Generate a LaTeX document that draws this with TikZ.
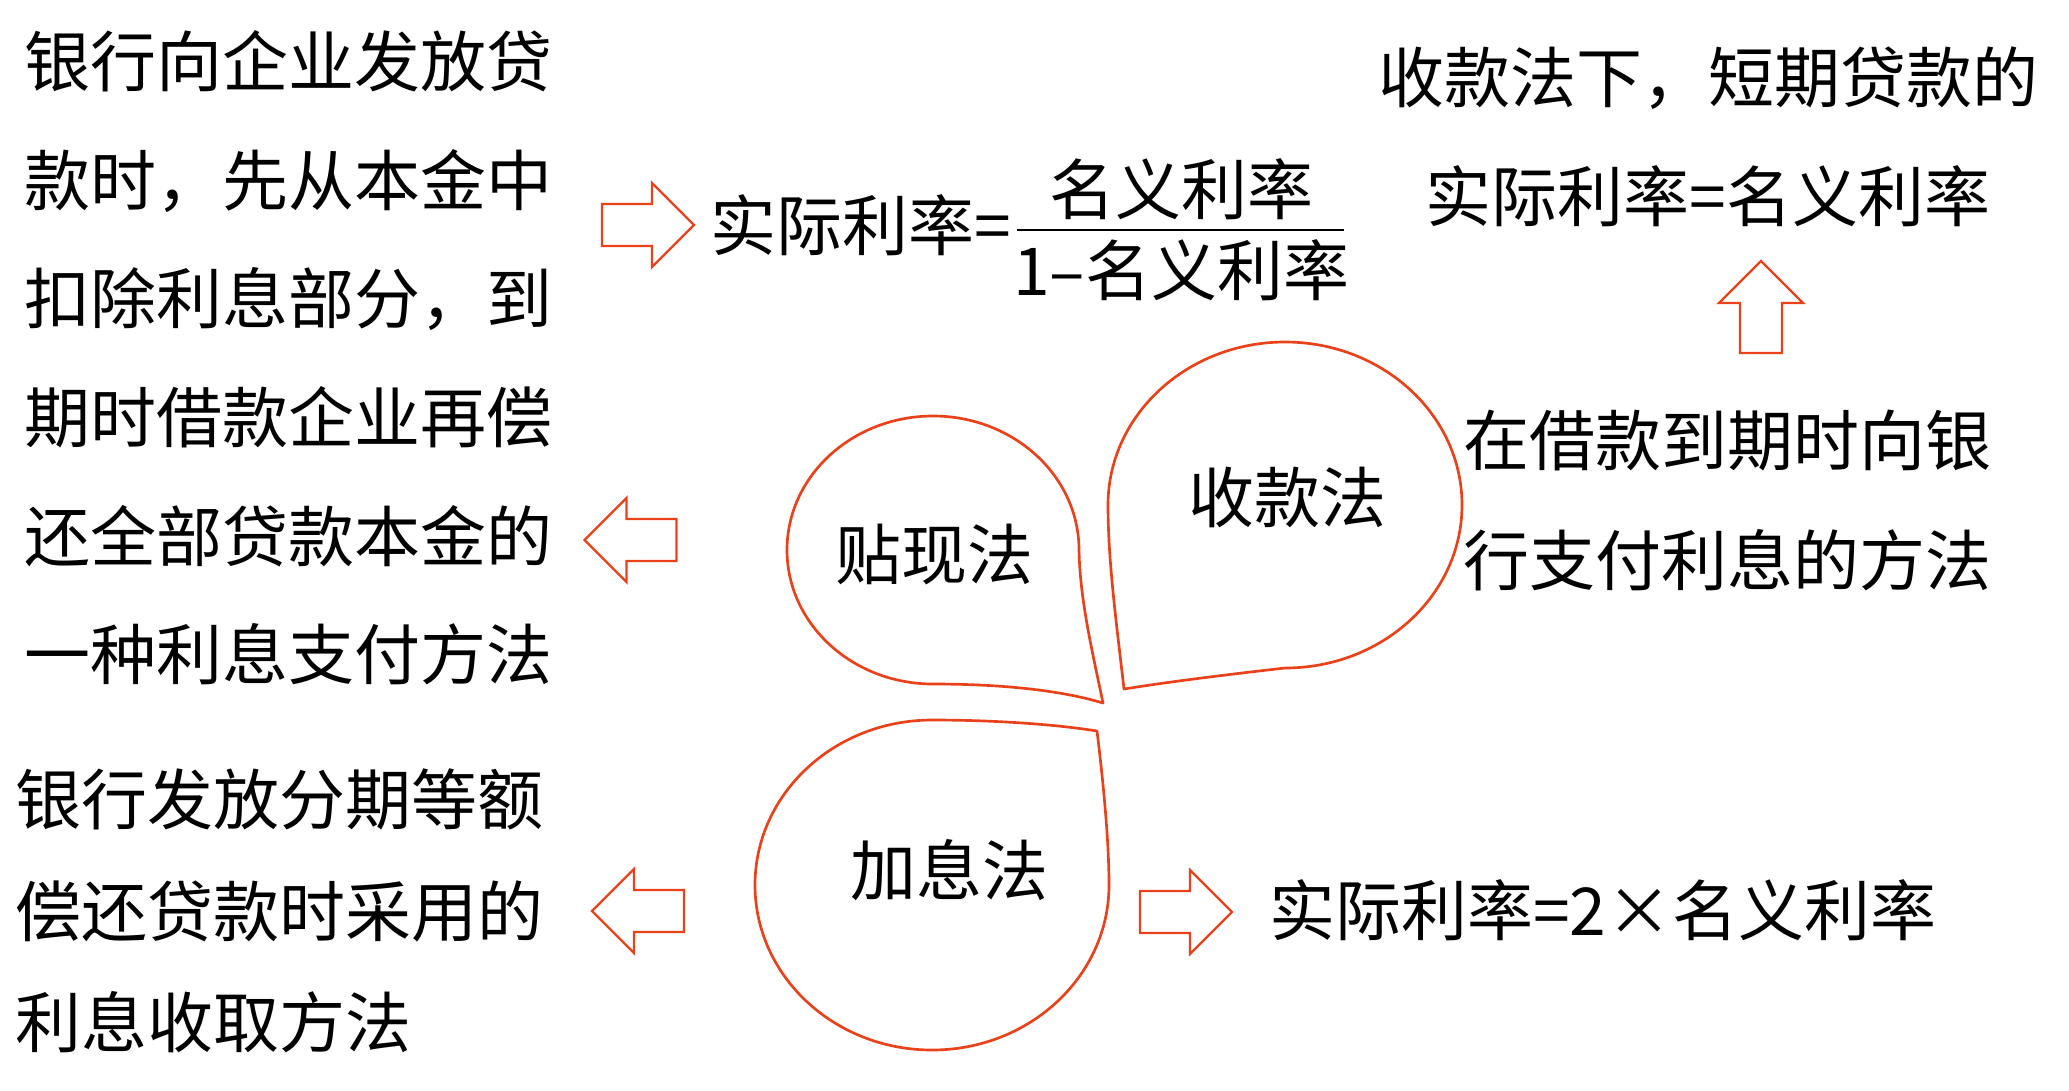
\documentclass[tikz,border=0pt]{standalone}
\usepackage{fontspec}
\setmainfont{Noto Sans CJK SC}
\definecolor{arroworange}{RGB}{233,66,26}
\tikzset{
  txt/.style={inner sep=0pt, align=left, font=\fontsize{49.5}{#1}\selectfont},
  txt/.default=89,
  bubble/.style={draw=arroworange, line width=2pt, line join=round},
  blockarrow/.pic={\draw[arroworange, line width=1.8pt] (-46,-21) -- (4,-21) -- (4,-42) -- (46,0) -- (4,42) -- (4,21) -- (-46,21) -- cycle;}
}
\begin{document}
\begin{tikzpicture}[x=0.75pt,y=0.75pt,yscale=-1,xscale=1]
\useasboundingbox (0,0) rectangle (2069,1090);

%Shape: Teardrop (discount)
\draw[bubble] (1103,703) .. controls (1092,650) and (1080,600) .. (1079,550) arc[start angle=0, end angle=-270, x radius=146, y radius=134] .. controls (1000,684) and (1060,690) .. cycle;
%Shape: Teardrop (collection)
\draw[bubble] (1108,505) arc[start angle=-180, end angle=90, x radius=177, y radius=163] .. controls (1250,672) and (1180,680) .. (1124,689) .. controls (1116,620) and (1108,560) .. cycle;
%Shape: Teardrop (add-on)
\draw[bubble] (1109,885) arc[start angle=0, end angle=270, x radius=177, y radius=165] .. controls (1000,720) and (1060,725) .. (1097,731) .. controls (1103,780) and (1109,840) .. cycle;

%Block Arrows
\pic at (648,225) {blockarrow};
\pic[rotate=180] at (630.5,540) {blockarrow};
\pic[rotate=180] at (638,911) {blockarrow};
\pic at (1186,912) {blockarrow};
\pic[rotate=90] at (1761,307) {blockarrow};

% Text Node
\node[txt, anchor=west] (discdef) at (24,358) {银行向企业发放贷\\款时，先从本金中\\扣除利息部分，到\\期时借款企业再偿\\还全部贷款本金的\\一种利息支付方法};
% Text Node
\node[txt=83.8, anchor=west] (adddef) at (15,911) {银行发放分期等额\\偿还贷款时采用的\\利息收取方法};
% Text Node
\node[txt=90, anchor=west] (colldef) at (1463,500) {在借款到期时向银\\行支付利息的方法};
% Text Node
\node[txt, align=center] (collrate) at (1708,136.5) {收款法下，短期贷款的\\实际利率=名义利率};

% Text Node
\node[txt, anchor=west] (discrate) at (710,225) {实际利率=};
\node[txt] (numer) at (1181,189) {名义利率};
\node[txt] (denom) at (1181,270) {1–名义利率};
\coordinate (barL) at (1017,230);
\coordinate (barR) at (1344,230);
\draw[line width=2pt] (barL) -- (barR);

% Text Node
\node[txt, anchor=west] (addrate) at (1269,910) {实际利率=2×名义利率};

% Text Node
\node[txt] (disc) at (934,555) {贴现法};
% Text Node
\node[txt] (coll) at (1287,497) {收款法};
% Text Node
\node[txt] (addon) at (949,870) {加息法};

\end{tikzpicture}
\end{document}
